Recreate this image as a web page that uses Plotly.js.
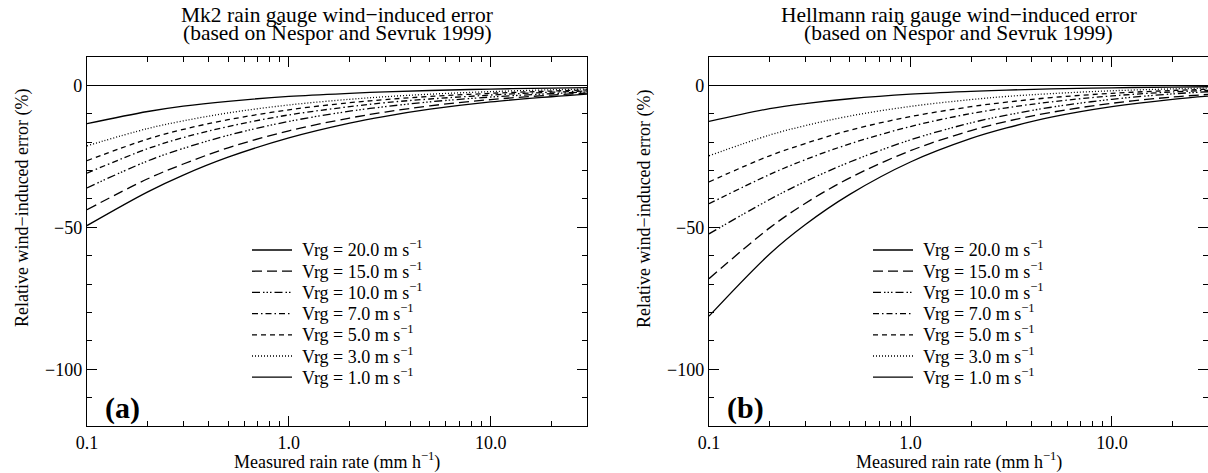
<!DOCTYPE html>
<html>
<head>
<meta charset="utf-8">
<script src="https://cdn.plot.ly/plotly-3.0.1.min.js"></script>
<style>html,body{margin:0;padding:0;background:#fff;}#chart{width:1208px;height:473px;}</style>
</head>
<body>
<div id="chart"></div>
<script>
// Measured rain rate (mm/h)
const rainRate = [0.1, 0.2, 0.3, 0.5, 1, 2, 3, 5, 10, 20, 30];
const windSpeeds = ["20.0", "15.0", "10.0", "7.0", "5.0", "3.0", "1.0"];

// Panel (a): Mk2 gauge, relative wind-induced error (%)
const mk2_20 = [-49.4, -37.5, -31.6, -25.3, -18.5, -13.3, -10.9, -8.4, -5.8, -4.0, -3.1];
const mk2_15 = [-43.8, -32.9, -27.7, -22.0, -16.0, -11.5, -9.4, -7.2, -5.0, -3.4, -2.7];
const mk2_10 = [-36.1, -26.6, -22.2, -17.6, -12.7, -9.1, -7.5, -5.8, -4.1, -2.9, -2.3];
const mk2_7  = [-30.9, -22.3, -18.4, -14.5, -10.4, -7.5, -6.1, -4.8, -3.4, -2.4, -2.0];
const mk2_5  = [-26.5, -18.9, -15.5, -12.1, -8.6, -6.1, -5.0, -3.9, -2.8, -2.0, -1.6];
const mk2_3  = [-21.3, -15.2, -12.5, -9.7, -6.9, -4.9, -4.0, -3.1, -2.2, -1.55, -1.3];
const mk2_1  = [-13.5, -9.2, -7.3, -5.6, -3.9, -2.8, -2.3, -1.8, -1.3, -0.96, -0.8];

// Panel (b): Hellmann gauge
const hel_20 = [-81.3, -59.4, -49.1, -38.4, -27.0, -18.7, -15.0, -11.2, -7.5, -4.9, -3.8];
const hel_15 = [-68.1, -50.2, -41.6, -32.6, -23.0, -15.9, -12.7, -9.5, -6.3, -4.1, -3.2];
const hel_10 = [-52.3, -40.2, -33.9, -27.0, -19.2, -13.2, -10.5, -7.7, -4.9, -3.0, -2.25];
const hel_7  = [-41.7, -31.4, -26.2, -20.6, -14.5, -9.9, -7.9, -5.8, -3.7, -2.3, -1.75];
const hel_5  = [-34.0, -24.8, -20.5, -15.8, -11.0, -7.5, -5.9, -4.3, -2.8, -1.8, -1.35];
const hel_3  = [-24.8, -17.5, -14.2, -10.8, -7.4, -5.0, -3.9, -2.9, -1.9, -1.23, -0.95];
const hel_1  = [-12.7, -8.2, -6.4, -4.7, -3.1, -2.1, -1.65, -1.24, -0.85, -0.59, -0.48];

const xTickVals = [0.1, 1, 10];
const xTickText = ["0.1", "1.0", "10.0"];
const xMinorVals = [0.2,0.3,0.4,0.5,0.6,0.7,0.8,0.9,2,3,4,5,6,7,8,9,20];
const yTickVals = [0, -50, -100];
const yTickText = ["0", "\u221250", "\u2212100"];

const dashes = ["solid", "10px,5px", "8px,3px,1.5px,2px,1.5px,2px,1.5px,3px", "6px,3px,1.5px,3px", "5px,4px", "1px,2px", "solid"];

const mk2 = [mk2_20, mk2_15, mk2_10, mk2_7, mk2_5, mk2_3, mk2_1];
const hel = [hel_20, hel_15, hel_10, hel_7, hel_5, hel_3, hel_1];

const FONT = "Liberation Serif, Times New Roman, serif";
const LW = 1.3;
const traces = [];
function addSet(sets, xa, ya) {
  sets.forEach((vals, i) => {
    traces.push({
      x: rainRate, y: vals, xaxis: xa, yaxis: ya, showlegend: false,
      type: "scatter", mode: "lines",
      name: "Vrg = " + windSpeeds[i] + " m s\u207B\u00B9",
      line: {color: "#000", width: LW, dash: dashes[i], shape: "spline", smoothing: 1}
    });
  });
}
addSet(mk2, "x", "y");
addSet(hel, "x2", "y2");

const W = 1208, T = 57, B = 426;
const PH = B - T;
function py(p) { return (B - p) / PH; }
function px(p) { return p / W; }

function xaxis(domain) {
  return {
    type: "log", domain: domain, range: [-1, Math.log10(30)],
    showline: true, linecolor: "#000", linewidth: 1.2, mirror: "ticks",
    ticks: "inside", ticklen: 10, tickwidth: 1, tickcolor: "#000",
    tickmode: "array", tickvals: xTickVals, ticktext: xTickText,
    minor: {tickmode: "array", tickvals: xMinorVals, ticks: "inside", ticklen: 5, tickwidth: 1, tickcolor: "#000"},
    showgrid: false, zeroline: false,
    tickfont: {family: FONT, size: 18, color: "#000"}
  };
}
function yaxis(anchor) {
  return {
    anchor: anchor, domain: [0, 1], range: [-120, 10],
    showline: true, linecolor: "#000", linewidth: 1.2, mirror: "ticks",
    ticks: "inside", ticklen: 10, tickwidth: 1, tickcolor: "#000",
    tickmode: "array", tickvals: yTickVals, ticktext: yTickText,
    minor: {dtick: 10, tick0: 0, ticks: "inside", ticklen: 5, tickwidth: 1, tickcolor: "#000"},
    showgrid: false, zeroline: true, zerolinecolor: "#000", zerolinewidth: 1.2,
    tickfont: {family: FONT, size: 18, color: "#000"}
  };
}

const panels = [
  {l: 87, r: 587, t1: "Mk2 rain gauge wind\u2212induced error", lab: "(a)", legX: 252},
  {l: 709, r: 1208, t1: "Hellmann rain gauge wind\u2212induced error", lab: "(b)", legX: 873}
];
const annotations = [];
const shapes = [];
panels.forEach(p => {
  const cx = px((p.l + p.r) / 2);
  annotations.push({xref: "paper", yref: "paper", x: cx, y: py(15), text: p.t1, showarrow: false, xanchor: "center", yanchor: "middle", font: {family: FONT, size: 21.5, color: "#000"}});
  annotations.push({xref: "paper", yref: "paper", x: cx, y: py(33), text: "(based on \u0147espor and Sevruk 1999)", showarrow: false, xanchor: "center", yanchor: "middle", font: {family: FONT, size: 21.5, color: "#000"}});
  annotations.push({xref: "paper", yref: "paper", x: cx, y: py(461), text: "Measured rain rate (mm h<sup>\u22121</sup>)", showarrow: false, xanchor: "center", yanchor: "middle", font: {family: FONT, size: 18, color: "#000"}});
  annotations.push({xref: "paper", yref: "paper", x: px(p.l - 65), y: py(208), text: "Relative wind\u2212induced error (%)", textangle: -90, showarrow: false, xanchor: "center", yanchor: "middle", font: {family: FONT, size: 18, color: "#000"}});
  annotations.push({xref: "paper", yref: "paper", x: px(p.l + 16), y: py(408), text: "<b>" + p.lab + "</b>", showarrow: false, xanchor: "left", yanchor: "middle", font: {family: FONT, size: 30, color: "#000"}});
  // legend
  windSpeeds.forEach((ws, i) => {
    const yy = 250 + i * 21.2;
    shapes.push({type: "line", xref: "paper", yref: "paper", x0: px(p.legX), x1: px(p.legX + 40), y0: py(yy), y1: py(yy), line: {color: "#000", width: LW, dash: dashes[i]}});
    annotations.push({xref: "paper", yref: "paper", x: px(p.legX + 48), y: py(yy - 1), text: "Vrg = " + ws + " m s<sup>\u22121</sup>", showarrow: false, xanchor: "left", yanchor: "middle", font: {family: FONT, size: 18, color: "#000"}});
  });
});

const layout = {
  width: 1208, height: 473,
  margin: {l: 0, r: 0, t: T, b: 473 - B, pad: 0},
  paper_bgcolor: "#fff", plot_bgcolor: "#fff",
  showlegend: false,
  xaxis: xaxis([87 / W, 587 / W]),
  yaxis: yaxis("x"),
  xaxis2: xaxis([709 / W, 1]),
  yaxis2: yaxis("x2"),
  annotations: annotations,
  shapes: shapes
};

Plotly.newPlot("chart", traces, layout, {displayModeBar: false, staticPlot: true});
</script>
</body>
</html>
